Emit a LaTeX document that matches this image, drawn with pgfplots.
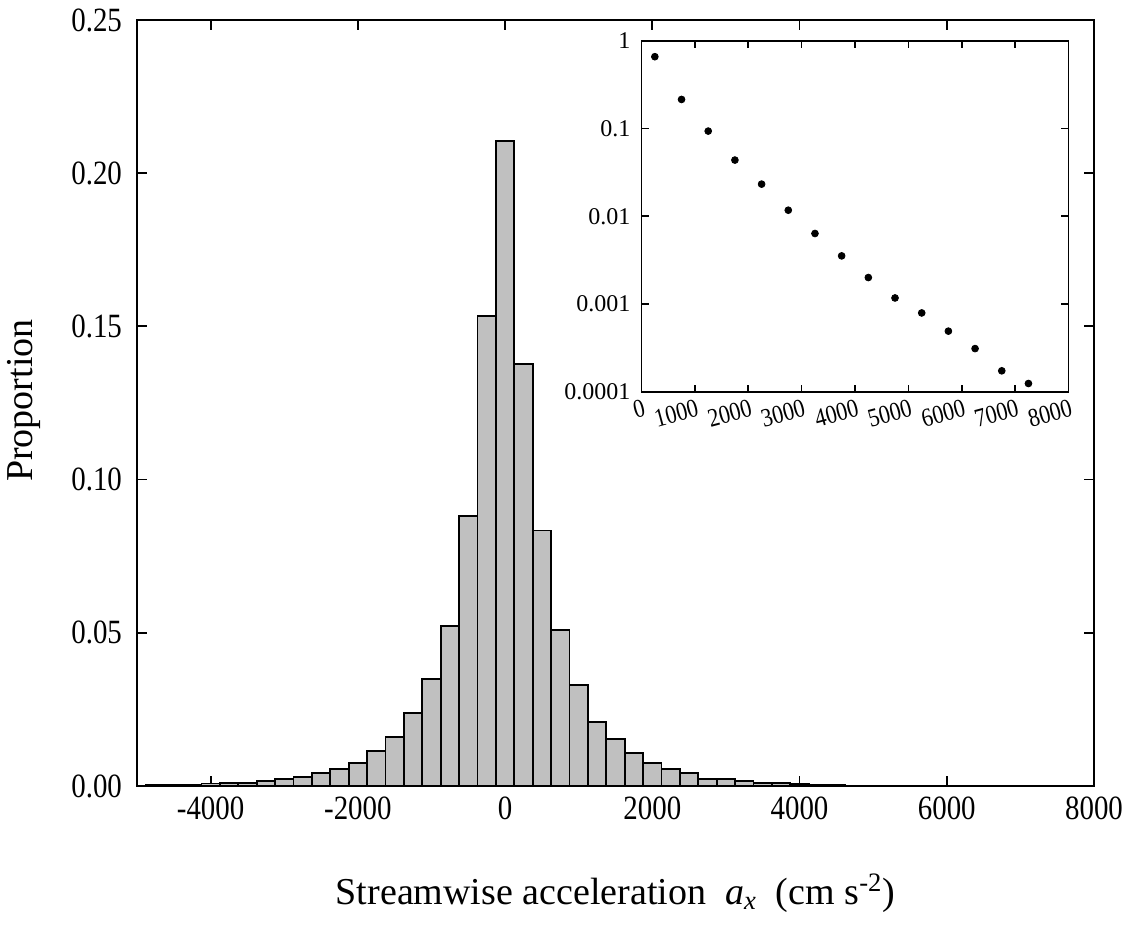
\documentclass[border=0pt]{standalone}
\usepackage{fontspec}
\setmainfont{Liberation Serif}
\newfontfamily\tickfont[FakeStretch=0.85]{Liberation Serif}
\usepackage{pgfplots}
\pgfplotsset{compat=1.18}
\definecolor{bargray}{RGB}{192,192,192}
\begin{document}
\begin{tikzpicture}
\useasboundingbox (-68.5pt,-70pt) rectangle (499pt,393pt);
\begin{axis}[
  at={(0pt,0pt)}, anchor=south west,
  width=478.5pt, height=383pt, scale only axis,
  xmin=-5000, xmax=8000, ymin=0, ymax=0.25,
  xtick={-4000,-2000,0,2000,4000,6000,8000},
  xticklabels={-4000,-2000,0,2000,4000,6000,8000},
  ytick={0,0.05,0.10,0.15,0.20,0.25},
  yticklabels={0.00,0.05,0.10,0.15,0.20,0.25},
  tick align=inside, major tick length=5pt,
  axis line style={line width=1pt},
  every tick/.style={black, line width=0.9pt},
  tick label style={font=\fontsize{17}{20}\tickfont},
  xticklabel style={yshift=-2pt},
  yticklabel style={xshift=-4pt},
  xlabel={Streamwise acceleration\ \ \textit{a}\textsubscript{\textit{x}}\ \ (cm s\textsuperscript{-2})},
  ylabel={Proportion},
  xlabel style={at={(axis description cs:0.5,-0.14)}, anchor=center, font=\fontsize{19}{23}\selectfont},
  ylabel style={at={(axis description cs:-0.118,0.503)}, anchor=center, font=\fontsize{19}{23}\selectfont},
]
\addplot[ybar, bar width=250, bar shift=0pt, fill=bargray, draw=black, line width=0.9pt] coordinates {
(-4750,0.0004) (-4500,0.0004) (-4250,0.0005) (-4000,0.0008) (-3750,0.0009)
(-3500,0.0011) (-3250,0.0016) (-3000,0.0023) (-2750,0.0030) (-2500,0.0042)
(-2250,0.0056) (-2000,0.0076) (-1750,0.0114) (-1500,0.0160) (-1250,0.0237)
(-1000,0.0348) (-750,0.0523) (-500,0.0880) (-250,0.1535) (0,0.2104)
(250,0.1378) (500,0.0834) (750,0.0509) (1000,0.0329) (1250,0.0210)
(1500,0.0153) (1750,0.0107) (2000,0.0074) (2250,0.0056) (2500,0.0042)
(2750,0.0023) (3000,0.0022) (3250,0.0016) (3500,0.0011) (3750,0.0010)
(4000,0.0007) (4250,0.0005) (4500,0.0004)
};
\end{axis}
\begin{axis}[
  at={(252.25pt,197.15pt)}, anchor=south west,
  width=213.5pt, height=175.5pt, scale only axis,
  ymode=log, xmin=0, xmax=8000, ymin=1e-4, ymax=1,
  xtick={0,1000,2000,3000,4000,5000,6000,7000,8000},
  xticklabels={0,1000,2000,3000,4000,5000,6000,7000,8000},
  ytick={1e-4,1e-3,1e-2,1e-1,1},
  yticklabels={0.0001,0.001,0.01,0.1,1},
  yminorticks=false, xminorticks=false,
  tick align=inside, major tick length=3.5pt,
  axis line style={line width=0.9pt},
  every tick/.style={black, line width=0.8pt},
  tick label style={font=\fontsize{12}{14}\selectfont},
  xticklabel style={font=\fontsize{13}{15}\tickfont, rotate=15, anchor=north east, inner sep=0.5pt, yshift=-3pt},
  yticklabel style={xshift=-2pt},
]
\addplot[only marks, mark=*, mark size=1.7pt, black] coordinates {
(250,0.657) (750,0.214) (1250,0.0933) (1750,0.0436) (2250,0.0232)
(2750,0.0117) (3250,0.00635) (3750,0.00353) (4250,0.0020) (4750,0.00117)
(5250,0.00079) (5750,0.00049) (6250,0.00031) (6750,0.000173) (7250,0.000124)
};
\end{axis}
\end{tikzpicture}
\end{document}
